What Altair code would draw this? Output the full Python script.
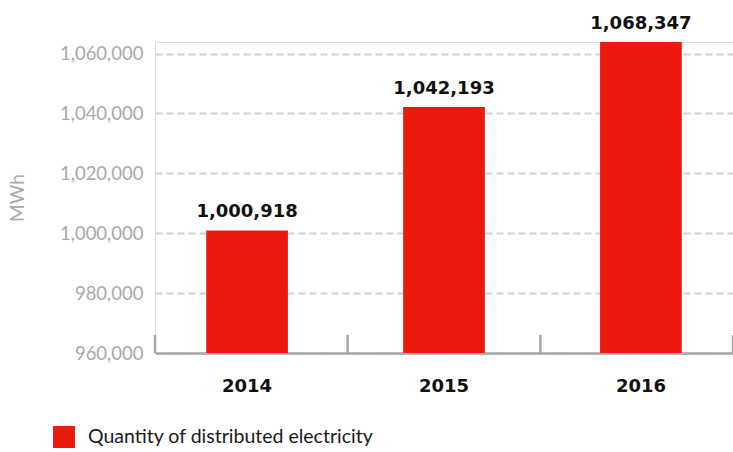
import altair as alt
import pandas as pd

# ---- data ----
years = ["2014", "2015", "2016"]
values = [1000918, 1042193, 1068347]
series_name = "Quantity of distributed electricity"
y_ticks = [960000, 980000, 1000000, 1020000, 1040000, 1060000]

# ---- layout / style ----
y_min = 960000
y_max = 1063874  # visible top of the value axis in the reference
red = "#ec1a0e"
gray_axis = "#a6a6a6"
gray_text = "#a9a9a9"
plot_w, plot_h = 578, 311

df = pd.DataFrame({"year": years, "value": values, "series": [series_name] * len(years)})
base = alt.Chart(df)

x_bars = alt.X(
    "year:N",
    sort=years,
    scale=alt.Scale(paddingInner=0.585, paddingOuter=0.26),
    axis=alt.Axis(
        title=None, labelAngle=0, ticks=False, grid=False,
        domain=True, domainColor=gray_axis, domainWidth=2.5,
        labelFont="DejaVu Sans", labelFontWeight="bold", labelFontSize=18,
        labelColor="#111111", labelPadding=24,
    ),
)

y_axis = alt.Axis(
    values=y_ticks, labelExpr="format(datum.value, ',')",
    grid=True, gridDash=[7, 4], gridColor="#d2d2d2",
    gridWidth=2, domain=False, ticks=False,
    labelFont="Lato", labelFontSize=18.5, labelColor=gray_text, labelPadding=12,
    title="MWh", titleFont="Lato", titleFontSize=19, titleFontWeight="normal",
    titleColor=gray_text, titlePadding=32,
)
y_scale = alt.Scale(domain=[y_min, y_max], nice=False, zero=False)

bars = base.mark_bar(clip=True).encode(
    x=x_bars,
    y=alt.Y("value:Q", scale=y_scale, axis=y_axis),
    color=alt.Color(
        "series:N",
        scale=alt.Scale(range=[red]),
        legend=alt.Legend(
            title=None, orient="none", legendX=-102, legendY=384,
            symbolType="square", symbolSize=484, symbolStrokeWidth=0,
            labelFont="Lato", labelFontSize=19.5, labelColor="#1a1a1a",
            labelOffset=13, labelLimit=500, padding=0,
        ),
    ),
)

labels = base.transform_calculate(
    ypos=f"min(datum.value, {y_max})"
).mark_text(
    dy=-13, baseline="alphabetic", font="DejaVu Sans", fontWeight="bold",
    fontSize=18, color="#111111",
).encode(
    x=alt.X("year:N", sort=years),
    y=alt.Y("ypos:Q", scale=y_scale, axis=y_axis),
    text=alt.Text("value:Q", format=","),
)

x_rules = alt.X("year:N", sort=years, bandPosition=0,
                scale=alt.Scale(paddingInner=0, paddingOuter=0), axis=None)
rules_start = base.mark_rule(color=gray_axis, strokeWidth=2.5).encode(
    x=x_rules, y=alt.value(plot_h - 18), y2=alt.value(plot_h)
)
rules_end = base.transform_filter(
    alt.datum.year == years[-1]
).mark_rule(color=gray_axis, strokeWidth=2.5).encode(
    x=alt.X("year:N", sort=years, bandPosition=1,
            scale=alt.Scale(paddingInner=0, paddingOuter=0), axis=None),
    y=alt.value(plot_h - 18), y2=alt.value(plot_h),
)

chart = alt.layer(
    alt.layer(bars, labels),
    alt.layer(rules_start, rules_end),
).resolve_scale(x="independent").properties(
    width=plot_w, height=plot_h,
    autosize=alt.AutoSizeParams(type="none"),
    padding={"left": 155, "top": 42, "right": 0, "bottom": 99},
).configure_view(stroke=None).configure(background="white")

chart.save("out.html", embed_options={"renderer": "svg", "actions": False})
